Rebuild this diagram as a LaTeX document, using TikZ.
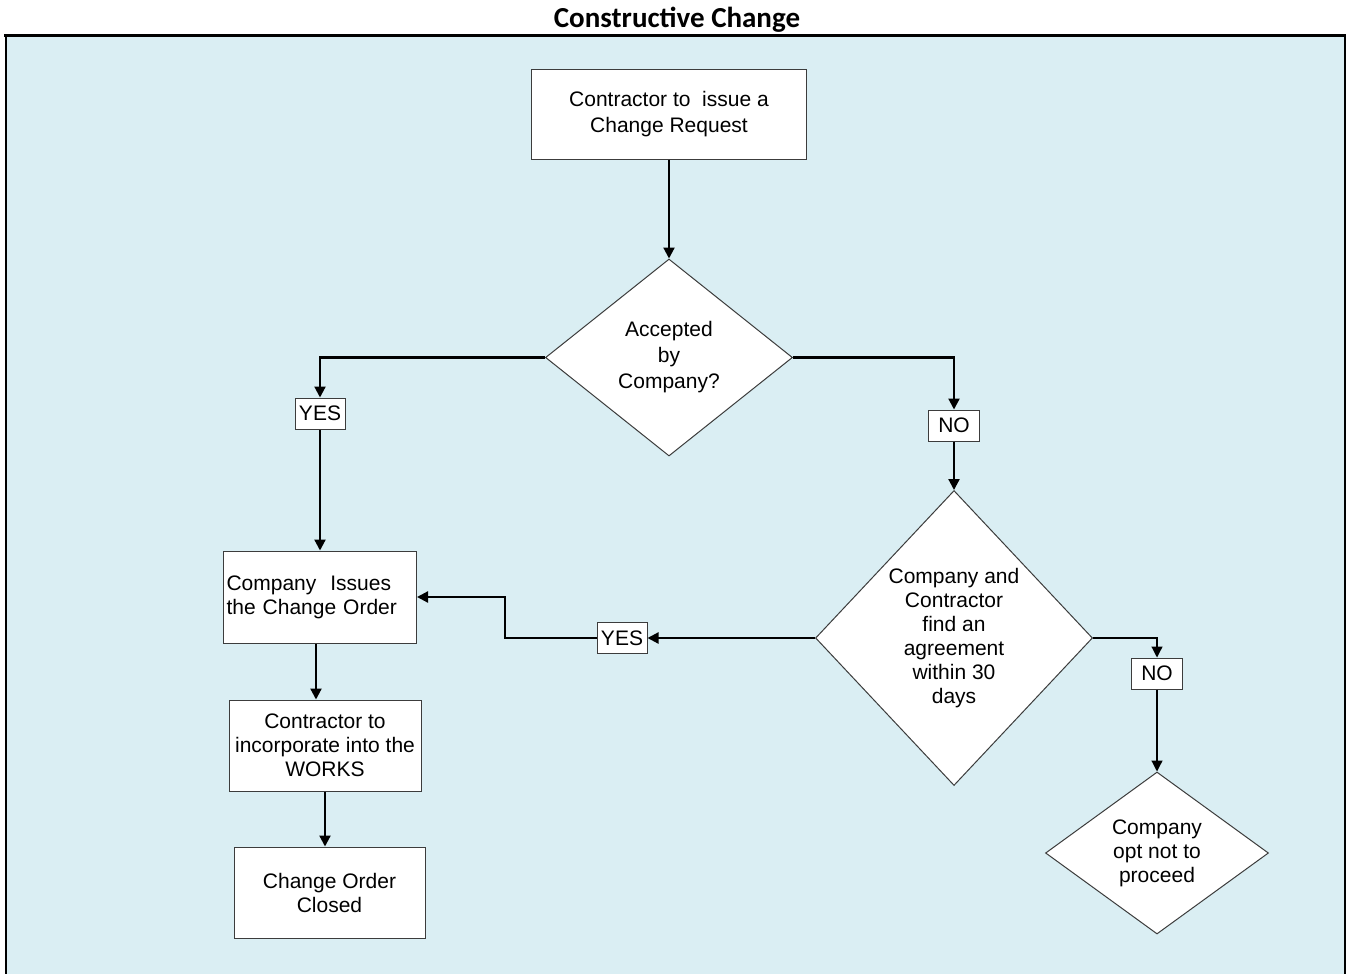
\documentclass[tikz,border=0pt]{standalone}
\usepackage{fontspec}
\setmainfont{Liberation Sans}
\newfontfamily\titlefont{Carlito}
\usetikzlibrary{arrows.meta,shapes.geometric}
\definecolor{panel}{RGB}{218,238,243}
\definecolor{edge}{RGB}{60,60,60}
\begin{document}
\begin{tikzpicture}[x=1pt,y=-1pt,
  txt/.style={font=\fontsize{21}{24}\selectfont},
  box/.style={txt, draw=edge, line width=1pt, fill=white, inner sep=0pt, align=center},
  decision/.style={txt, diamond, draw=edge, line width=1pt, fill=white, inner sep=0pt, align=center},
  tag/.style={box, minimum width=50pt, minimum height=31pt},
  flow/.style={line width=2.2pt, -{Triangle[length=11pt,width=11pt]}},
  thinflow/.style={line width=1.2pt, -{Triangle[length=11pt,width=11pt]}}
]
\useasboundingbox (0,0) rectangle (1348,974);

% panel and frame
\fill[panel] (5,36) rectangle (1345,974);
\draw[line width=3pt] (4,36) -- (1346,36);
\draw[line width=1.5pt] (6,36) -- (6,974);
\draw[line width=1.5pt] (1345,36) -- (1345,974);

\node[font=\titlefont\bfseries\fontsize{29}{32}\selectfont] (title) at (677,19.5) {Constructive Change};

% process boxes
\node[box, minimum width=275pt, minimum height=90pt, font=\fontsize{21}{26}\selectfont] (b1) at (669,114)
  {Contractor to\ \ issue a\\Change Request};
\node[box, minimum width=193pt, minimum height=92pt, text width=187pt, align=left] (b2) at (320,597)
  {Company\ \ Issues\\the Change Order};
\node[box, minimum width=192pt, minimum height=91pt] (b3) at (325,745.5)
  {Contractor to\\incorporate into the\\WORKS};
\node[box, minimum width=191pt, minimum height=91pt] (b4) at (329.5,892.5)
  {Change Order\\Closed};

% decisions
\node[decision, minimum width=247pt, minimum height=197pt, font=\fontsize{21}{26}\selectfont] (d1) at (669,357.5)
  {Accepted\\by\\Company?};
\node[decision, minimum width=277pt, minimum height=295pt] (d2) at (954,638)
  {Company and\\Contractor\\find an\\agreement\\within 30\\days};
\node[decision, minimum width=223pt, minimum height=162pt] (d3) at (1157,853)
  {Company\\opt not to\\proceed};

% branch labels
\node[tag] (yes1) at (320,413.5) {YES};
\node[tag, minimum width=51pt] (no1) at (954,425.5) {NO};
\node[tag] (yes2) at (622,638) {YES};
\node[tag, minimum width=51pt] (no2) at (1157,673.5) {NO};

\coordinate (turn) at (505,598);

% connectors
\draw[flow] (b1.south) -- (d1.north);
\draw[flow] (d1.west) -| (yes1.north);
\draw[flow] (yes1.south) -- (b2.north);
\draw[flow] (d1.east) -| (no1.north);
\draw[flow] (no1.south) -- (d2.north);
\draw[flow] (d2.west) -- (yes2.east);
\draw[flow] (yes2.west) -| (turn) |- (b2.east);
\draw[flow] ([xshift=-4pt]b2.south) -- ([xshift=-4pt]b2.south |- b3.north);
\draw[flow] (b3.south) -- (b3.south |- b4.north);
\draw[thinflow] (d2.east) -| (no2.north);
\draw[thinflow] (no2.south) -- (d3.north);
\end{tikzpicture}
\end{document}
